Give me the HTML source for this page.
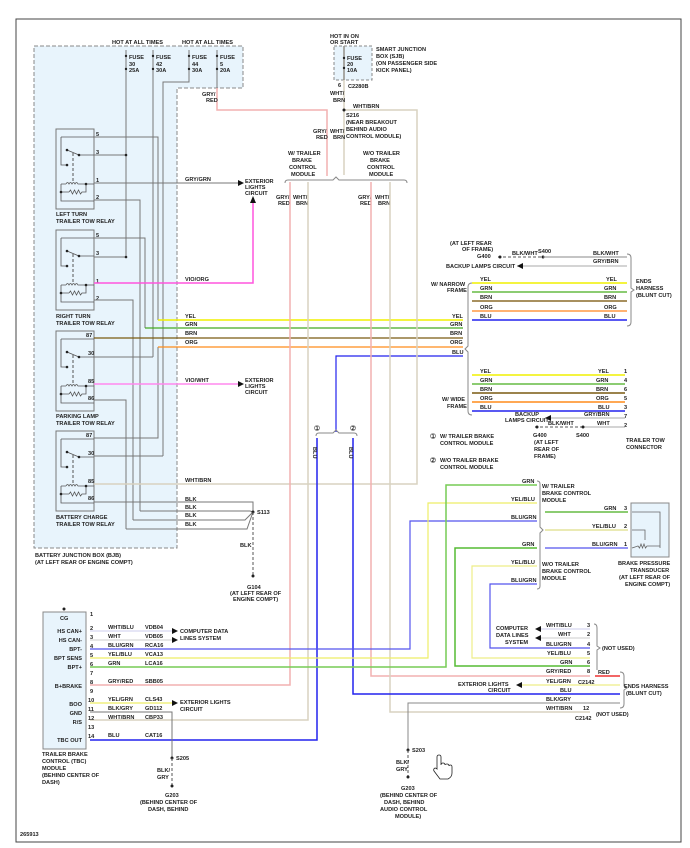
<!DOCTYPE html>
<html><head><meta charset="utf-8"><style>
html,body{margin:0;padding:0;background:#fff;}
svg{display:block;}
text{font-family:"Liberation Sans",sans-serif;font-size:5.6px;font-weight:bold;fill:#222;}
</style></head><body>
<svg width="690" height="848" viewBox="0 0 690 848" xmlns="http://www.w3.org/2000/svg">
<defs>
<g id="relay">
<rect x="0" y="0" width="38" height="80" fill="#e8f4fc" stroke="#777" stroke-width="1"/>
<path d="M5,8 H38 M5,8 V36 H11 M11,21 L23,26 M23,26 H38 M5,55 V72 H38 M5,55 H10 M5,63 H13" fill="none" stroke="#555" stroke-width="0.8"/>
<path d="M10,55 q1.5,-3 3,0 q1.5,-3 3,0 q1.5,-3 3,0 q1.5,-3 3,0 H38" fill="none" stroke="#555" stroke-width="0.8"/>
<path d="M13,63 l1.5,-2 l2,4 l2,-4 l2,4 l2,-4 l2,4 l1.5,-2 H30 V55" fill="none" stroke="#555" stroke-width="0.8"/>
<path d="M17,24 V53" stroke="#555" stroke-width="1" stroke-dasharray="3,2"/>
<circle cx="11" cy="21" r="1.3" fill="#222"/><circle cx="11" cy="36" r="1.3" fill="#222"/><circle cx="23" cy="26" r="1.3" fill="#222"/><circle cx="5" cy="63" r="1.3" fill="#222"/><circle cx="30" cy="55" r="1.3" fill="#222"/>
</g>
</defs>
<rect x="16" y="19" width="665" height="823" fill="none" stroke="#444" stroke-width="1"/>
<!-- BJB -->
<path d="M34,46 H243 V88 H177 V548 H34 Z" fill="#e8f4fc" stroke="#888" stroke-width="1" stroke-dasharray="4,2"/>
<text x="112" y="44">HOT AT ALL TIMES</text><text x="182" y="44">HOT AT ALL TIMES</text>
<g stroke="#777" stroke-width="1" fill="none">
<path d="M126,50 V257 M153,50 V357 M189,50 V82 H163 V456 M217,50 V88"/>
</g>
<g fill="#222"><circle cx="126" cy="56" r="1.2"/><circle cx="153" cy="56" r="1.2"/><circle cx="189" cy="56" r="1.2"/><circle cx="217" cy="56" r="1.2"/>
<circle cx="126" cy="69" r="1.2"/><circle cx="153" cy="69" r="1.2"/><circle cx="189" cy="69" r="1.2"/><circle cx="217" cy="69" r="1.2"/></g>
<g font-size="5"><text x="129" y="59">FUSE</text><text x="129" y="66">30</text><text x="129" y="72">25A</text>
<text x="156" y="59">FUSE</text><text x="156" y="66">42</text><text x="156" y="72">30A</text>
<text x="192" y="59">FUSE</text><text x="192" y="66">44</text><text x="192" y="72">30A</text>
<text x="220" y="59">FUSE</text><text x="220" y="66">5</text><text x="220" y="72">20A</text></g>
<!-- relays -->
<use href="#relay" x="56" y="129"/><use href="#relay" x="56" y="230"/><use href="#relay" x="56" y="331"/><use href="#relay" x="56" y="431"/>
<g font-size="5"><text x="96" y="136">5</text><text x="96" y="154">3</text><text x="96" y="182">1</text><text x="96" y="199">2</text>
<text x="96" y="237">5</text><text x="96" y="255">3</text><text x="96" y="283">1</text><text x="96" y="300">2</text>
<text x="86" y="337">87</text><text x="88" y="355">30</text><text x="88" y="383">85</text><text x="88" y="400">86</text>
<text x="86" y="437">87</text><text x="88" y="455">30</text><text x="88" y="483">85</text><text x="88" y="500">86</text></g>
<text x="56" y="216">LEFT TURN</text><text x="56" y="223">TRAILER TOW RELAY</text>
<text x="56" y="318">RIGHT TURN</text><text x="56" y="325">TRAILER TOW RELAY</text>
<text x="56" y="418">PARKING LAMP</text><text x="56" y="425">TRAILER TOW RELAY</text>
<text x="56" y="519">BATTERY CHARGE</text><text x="56" y="526">TRAILER TOW RELAY</text>
<text x="35" y="557">BATTERY JUNCTION BOX (BJB)</text><text x="35" y="564">(AT LEFT REAR OF ENGINE COMPT)</text>
<!-- relay wires -->
<g stroke="#777" stroke-width="1" fill="none">
<path d="M94,137 H158 V320 M94,155 H126 M94,200 H140 V511 M94,238 H145 V328 M94,257 H126 M94,300 H133 V520 M94,357 H153 M94,400 H126 V529 M94,438 H158 V347 M94,456 H163 M94,502 H253 V512"/>
<path d="M140,511 H250 L253,512 M133,520 H245 L253,512 M126,529 H247 L253,512"/>
<path d="M94,183 H238"/>
</g>
<circle cx="126" cy="155" r="1.3" fill="#222"/><circle cx="126" cy="257" r="1.3" fill="#222"/>
<text x="185" y="181">GRY/GRN</text>
<path d="M238,180 L244,183 L238,186Z" fill="#111"/>
<text x="245" y="183">EXTERIOR</text><text x="245" y="189">LIGHTS</text><text x="245" y="195">CIRCUIT</text>
<path d="M94,283 H253 V200" stroke="#ff55dd" stroke-width="1.5" fill="none"/>
<path d="M250,203 L253,196 L256,203Z" fill="#111"/>
<text x="185" y="281">VIO/ORG</text>
<path d="M94,384 H238" stroke="#ff88ee" stroke-width="1.5"/>
<text x="185" y="382">VIO/WHT</text>
<path d="M238,381 L244,384 L238,387Z" fill="#111"/>
<text x="245" y="382">EXTERIOR</text><text x="245" y="388">LIGHTS</text><text x="245" y="394">CIRCUIT</text>
<!-- main colored lines -->
<path d="M158,320 H463" stroke="#f0f000" stroke-width="1.5"/>
<path d="M145,328 H463" stroke="#44aa22" stroke-width="1.2"/>
<path d="M94,338 H463" stroke="#7a5a10" stroke-width="1.2"/>
<path d="M158,347 H463" stroke="#ff8c1a" stroke-width="1.2"/>
<path d="M463,356 H336 V432" stroke="#2222ee" stroke-width="1.2" fill="none"/>
<text x="185" y="318">YEL</text><text x="185" y="326">GRN</text><text x="185" y="335">BRN</text><text x="185" y="344">ORG</text>
<text x="452" y="318">YEL</text><text x="450" y="326">GRN</text><text x="450" y="335">BRN</text><text x="450" y="344">ORG</text><text x="452" y="354">BLU</text>
<!-- WHT/BRN from relay4 -->
<path d="M94,484 H417 V110 H344" stroke="#d8d2c0" stroke-width="1.5" fill="none"/>
<text x="185" y="482">WHT/BRN</text>
<text x="185" y="501">BLK</text><text x="185" y="509">BLK</text><text x="185" y="517">BLK</text><text x="185" y="526">BLK</text>
<circle cx="253" cy="512" r="1.5" fill="#222"/><text x="257" y="514">S113</text>
<path d="M253,512 V575" stroke="#555" stroke-dasharray="3,2"/><text x="240" y="547">BLK</text>
<circle cx="253" cy="576" r="1.5" fill="#222"/>
<text x="247" y="589">G104</text><text x="230" y="595">(AT LEFT REAR OF</text><text x="233" y="601">ENGINE COMPT)</text>
<!-- GRY/RED from fuse5 -->
<path d="M217,88 V110 H327 V176" stroke="#f2b0b0" stroke-width="1.5" fill="none"/>
<text x="202" y="96">GRY/</text><text x="206" y="102">RED</text>
<!-- SJB -->
<rect x="334" y="46" width="38" height="34" fill="#e8f4fc" stroke="#888" stroke-dasharray="3,2"/>
<text x="330" y="38">HOT IN ON</text><text x="330" y="44">OR START</text>
<path d="M344,46 V175" stroke="#d8d2c0" stroke-width="1.5"/>
<path d="M344,46 V80" stroke="#555" stroke-width="0.8"/>
<circle cx="344" cy="58" r="1.2" fill="#222"/><circle cx="344" cy="68" r="1.2" fill="#222"/>
<g font-size="5"><text x="347" y="60">FUSE</text><text x="347" y="66">20</text><text x="347" y="72">10A</text></g>
<text x="376" y="51">SMART JUNCTION</text><text x="376" y="58">BOX (SJB)</text><text x="376" y="65">(ON PASSENGER SIDE</text><text x="376" y="72">KICK PANEL)</text>
<text x="338" y="87">6</text><text x="348" y="88">C2280B</text>
<text x="330" y="95">WHT/</text><text x="333" y="102">BRN</text>
<circle cx="344" cy="110" r="1.5" fill="#222"/>
<text x="353" y="108">WHT/BRN</text>
<text x="346" y="117">S216</text><text x="346" y="124">(NEAR BREAKOUT</text><text x="346" y="131">BEHIND AUDIO</text><text x="346" y="138">CONTROL MODULE)</text>
<text x="313" y="133">GRY/</text><text x="316" y="139">RED</text><text x="330" y="133">WHT/</text><text x="333" y="139">BRN</text>
<text x="288" y="155">W/ TRAILER</text><text x="292" y="162">BRAKE</text><text x="289" y="169">CONTROL</text><text x="291" y="176">MODULE</text>
<text x="363" y="155">W/O TRAILER</text><text x="370" y="162">BRAKE</text><text x="367" y="169">CONTROL</text><text x="369" y="176">MODULE</text>
<path d="M285,183 Q285,180 288,180 H333 L336,177 L339,180 H404 Q407,180 407,183" stroke="#888" fill="none"/>
<text x="276" y="199">GRY/</text><text x="278" y="205">RED</text><text x="293" y="199">WHT/</text><text x="296" y="205">BRN</text>
<text x="358" y="199">GRY/</text><text x="360" y="205">RED</text><text x="375" y="199">WHT/</text><text x="378" y="205">BRN</text>
<!-- verticals -->
<path d="M290,182 V685 H90" stroke="#f2b0b0" stroke-width="1.5" fill="none"/>
<path d="M308,182 V720 H90" stroke="#d8d2c0" stroke-width="1.5" fill="none"/>
<path d="M371,182 V676 H590" stroke="#f2b0b0" stroke-width="1.5" fill="none"/>
<path d="M390,182 V712 H590" stroke="#d8d2c0" stroke-width="1.5" fill="none"/>
<!-- brace 1/2 -->
<path d="M316,436 Q316,433 319,433 H333 L336,430 L339,433 H354 Q357,433 357,436" stroke="#888" fill="none"/>
<circle cx="317" cy="428" r="2.5" fill="#fff" stroke="#555" stroke-width="0.6"/><text x="315.5" y="430" font-size="4">1</text>
<circle cx="353" cy="428" r="2.5" fill="#fff" stroke="#555" stroke-width="0.6"/><text x="351.5" y="430" font-size="4">2</text>
<path d="M317,438 V740 H90" stroke="#2222ee" stroke-width="1.5" fill="none"/>
<path d="M353,438 V694 H620" stroke="#2222ee" stroke-width="1.5" fill="none"/>
<text x="310" y="450" font-size="4" transform="rotate(90 313 450)">BLU</text>
<text x="346" y="450" font-size="4" transform="rotate(90 349 450)">BLU</text>
<!-- right top -->
<text x="450" y="245">(AT LEFT REAR</text><text x="462" y="251">OF FRAME)</text>
<text x="477" y="258">G400</text>
<path d="M498,257 H543" stroke="#555" stroke-dasharray="3,2"/><circle cx="500" cy="257" r="1.5" fill="#222"/>
<circle cx="543" cy="257" r="1.5" fill="#222"/><text x="512" y="255">BLK/WHT</text><text x="538" y="253">S400</text>
<path d="M543,257 H627" stroke="#888"/><text x="593" y="255">BLK/WHT</text>
<path d="M517,266 H627" stroke="#aaa"/><path d="M523,263 L517,266 L523,269Z" fill="#111"/>
<text x="446" y="268">BACKUP LAMPS CIRCUIT</text><text x="593" y="263">GRY/BRN</text>
<path d="M627,254 Q631,254 631,258 V288 L634,290 L631,292 V322 Q631,326 627,326" stroke="#888" fill="none"/>
<text x="636" y="283">ENDS</text><text x="636" y="290">HARNESS</text><text x="636" y="297">(BLUNT CUT)</text>
<text x="431" y="286">W/ NARROW</text><text x="447" y="292">FRAME</text>
<path d="M472,283 Q468,283 468,287 V346 L465,349 L468,352 V411 Q468,415 472,415" stroke="#888" fill="none"/>
<path d="M472,283 H627" stroke="#f0f000" stroke-width="1.5"/>
<path d="M472,292 H627" stroke="#66bb44" stroke-width="1.5"/>
<path d="M472,301 H627" stroke="#8b6b2a" stroke-width="1.5"/>
<path d="M472,311 H627" stroke="#ff9944" stroke-width="1.5"/>
<path d="M472,320 H627" stroke="#2222ee" stroke-width="1.5"/>
<g><text x="480" y="281">YEL</text><text x="480" y="290">GRN</text><text x="480" y="299">BRN</text><text x="480" y="309">ORG</text><text x="480" y="318">BLU</text>
<text x="606" y="281">YEL</text><text x="604" y="290">GRN</text><text x="604" y="299">BRN</text><text x="604" y="309">ORG</text><text x="604" y="318">BLU</text></g>
<text x="442" y="401">W/ WIDE</text><text x="447" y="408">FRAME</text>
<path d="M472,375 H625" stroke="#f0f000" stroke-width="1.5"/>
<path d="M472,384 H625" stroke="#66bb44" stroke-width="1.5"/>
<path d="M472,393 H625" stroke="#7a5a10" stroke-width="1.5"/>
<path d="M472,402 H625" stroke="#ff8c1a" stroke-width="1.5"/>
<path d="M472,411 H625" stroke="#2222ee" stroke-width="1.5"/>
<g><text x="480" y="373">YEL</text><text x="480" y="382">GRN</text><text x="480" y="391">BRN</text><text x="480" y="400">ORG</text><text x="480" y="409">BLU</text>
<text x="598" y="373">YEL</text><text x="596" y="382">GRN</text><text x="596" y="391">BRN</text><text x="596" y="400">ORG</text><text x="598" y="409">BLU</text>
<text x="624" y="373">1</text><text x="624" y="382">4</text><text x="624" y="391">6</text><text x="624" y="400">5</text><text x="624" y="409">3</text><text x="624" y="418">7</text><text x="624" y="427">2</text></g>
<path d="M545,418 H625" stroke="#aaa"/><path d="M551,415 L545,418 L551,421Z" fill="#111"/>
<text x="515" y="416">BACKUP</text><text x="505" y="422">LAMPS CIRCUIT</text><text x="584" y="416">GRY/BRN</text>
<path d="M583,427 H625" stroke="#aaa"/><text x="597" y="425">WHT</text>
<path d="M535,427 H583" stroke="#555" stroke-dasharray="3,2"/><circle cx="537" cy="427" r="1.5" fill="#222"/><circle cx="583" cy="427" r="1.5" fill="#222"/>
<text x="548" y="425">BLK/WHT</text><text x="533" y="437">G400</text><text x="576" y="437">S400</text>
<text x="534" y="444">(AT LEFT</text><text x="534" y="451">REAR OF</text><text x="534" y="458">FRAME)</text>
<text x="626" y="442">TRAILER TOW</text><text x="626" y="449">CONNECTOR</text>
<circle cx="433" cy="436" r="2.5" fill="#fff" stroke="#555" stroke-width="0.6"/><text x="431.5" y="438" font-size="4">1</text>
<text x="440" y="438">W/ TRAILER BRAKE</text><text x="440" y="445">CONTROL MODULE</text>
<circle cx="433" cy="460" r="2.5" fill="#fff" stroke="#555" stroke-width="0.6"/><text x="431.5" y="462" font-size="4">2</text>
<text x="440" y="462">W/O TRAILER BRAKE</text><text x="440" y="469">CONTROL MODULE</text>
<!-- module lines -->
<path d="M90,649 H410 V521 H537" stroke="#5555ee" stroke-width="1.2" fill="none"/>
<path d="M90,658 H428 V503 H537" stroke="#eeee66" stroke-width="1.2" fill="none"/>
<path d="M90,667 H446 V485 H537" stroke="#77cc55" stroke-width="1.5" fill="none"/>
<path d="M537,548 H455 V666 H590" stroke="#55bb33" stroke-width="1.5" fill="none"/>
<path d="M537,566 H472 V658 H590" stroke="#eeee88" stroke-width="1.2" fill="none"/>
<path d="M537,584 H490 V648 H590" stroke="#5555ee" stroke-width="1.2" fill="none"/>
<text x="522" y="483">GRN</text><text x="511" y="501">YEL/BLU</text><text x="511" y="519">BLU/GRN</text>
<text x="522" y="546">GRN</text><text x="511" y="564">YEL/BLU</text><text x="511" y="582">BLU/GRN</text>
<path d="M537,481 Q540,481 540,484 V527 L543,530 L540,533 V586 Q540,589 537,589" stroke="#888" fill="none"/>
<text x="542" y="488">W/ TRAILER</text><text x="542" y="495">BRAKE CONTROL</text><text x="542" y="502">MODULE</text>
<text x="542" y="566">W/O TRAILER</text><text x="542" y="573">BRAKE CONTROL</text><text x="542" y="580">MODULE</text>
<path d="M545,512 H628" stroke="#66bb44" stroke-width="1.5"/>
<path d="M545,530 H628" stroke="#dddd88" stroke-width="1.2"/>
<path d="M545,548 H628" stroke="#5555ee" stroke-width="1.2"/>
<text x="604" y="510">GRN</text><text x="592" y="528">YEL/BLU</text><text x="592" y="546">BLU/GRN</text>
<text x="624" y="510">3</text><text x="624" y="528">2</text><text x="624" y="546">1</text>
<rect x="631" y="503" width="38" height="54" fill="#e8f4fc" stroke="#888"/>
<path d="M632,512 H660 V548 M632,530 H645 V540 M632,548 L638,546 l1.5,2 l1.5,-4 l1.5,4 l1.5,-4 l1.5,4 l1.5,-2 H660" stroke="#666" fill="none" stroke-width="0.8"/>
<text x="618" y="565">BRAKE PRESSURE</text><text x="630" y="572">TRANSDUCER</text><text x="619" y="579">(AT LEFT REAR OF</text><text x="625" y="586">ENGINE COMPT)</text>
<!-- C2142 -->
<path d="M540,629 H590" stroke="#ccccee"/><path d="M540,638 H590" stroke="#ccc"/>
<path d="M541,626 L535,629 L541,632Z" fill="#111"/><path d="M541,635 L535,638 L541,641Z" fill="#111"/>
<text x="496" y="630">COMPUTER</text><text x="496" y="637">DATA LINES</text><text x="505" y="644">SYSTEM</text>
<text x="546" y="627">WHT/BLU</text><text x="558" y="636">WHT</text><text x="546" y="646">BLU/GRN</text><text x="547" y="655">YEL/BLU</text><text x="560" y="664">GRN</text><text x="546" y="673">GRY/RED</text>
<g font-size="5"><text x="587" y="627">3</text><text x="587" y="636">2</text><text x="587" y="646">4</text><text x="587" y="655">5</text><text x="587" y="664">6</text><text x="587" y="673">8</text></g>
<path d="M594,624 Q597,624 597,628 V646 L600,648 L597,650 V670" stroke="#888" fill="none"/>
<text x="602" y="650">(NOT USED)</text>
<path d="M595,676 H620" stroke="#ee3333" stroke-width="1.5"/><text x="598" y="674">RED</text>
<text x="578" y="684">C2142</text>
<path d="M520,685 H620" stroke="#eeee88" stroke-width="1.2"/><path d="M522,682 L516,685 L522,688Z" fill="#111"/>
<text x="546" y="683">YEL/GRN</text><text x="458" y="686">EXTERIOR LIGHTS</text><text x="488" y="692">CIRCUIT</text>
<text x="560" y="692">BLU</text>
<path d="M408,750 V703 H620" stroke="#888" fill="none"/><text x="546" y="701">BLK/GRY</text>
<text x="546" y="710">WHT/BRN</text><text x="583" y="710">12</text><text x="575" y="720">C2142</text>
<text x="596" y="716">(NOT USED)</text>
<path d="M620,672 Q624,672 624,676 V686 L627,688 L624,690 V704 Q624,708 620,708" stroke="#888" fill="none"/>
<text x="624" y="688">ENDS HARNESS</text><text x="626" y="695">(BLUNT CUT)</text>
<circle cx="408" cy="750" r="1.5" fill="#222"/><text x="412" y="752">S203</text>
<path d="M408,750 V776" stroke="#555" stroke-dasharray="3,2"/><circle cx="408" cy="777" r="1.5" fill="#222"/>
<text x="396" y="764">BLK/</text><text x="396" y="771">GRY</text>
<text x="401" y="790">G203</text><text x="380" y="797">(BEHIND CENTER OF</text><text x="384" y="804">DASH, BEHIND</text><text x="380" y="811">AUDIO CONTROL</text><text x="395" y="818">MODULE)</text>
<!-- hand cursor -->
<path d="M437,757 Q437,755 439,755 Q441,755 441,757 V765 Q441,763 443,763 Q445,763 445,765 Q445,764 447,764 Q449,764 449,766 Q449,765 450.5,765 Q452,765 452,767 V773 Q452,777 448,779 H440 L434,771 Q433,769 435,768 Q436,768 437,769 Z" fill="#fff" stroke="#222" stroke-width="0.8"/>
<!-- TBC module -->
<rect x="43" y="612" width="43" height="137" fill="#e8f4fc" stroke="#888"/>
<circle cx="64" cy="609" r="1.5" fill="#222"/><text x="60" y="620">CG</text>
<g text-anchor="end"><text x="82" y="633">HS CAN+</text><text x="82" y="642">HS CAN-</text><text x="82" y="651">BPT-</text><text x="82" y="660">BPT SENS</text><text x="82" y="669">BPT+</text><text x="82" y="688">B+BRAKE</text><text x="82" y="706">BOO</text><text x="82" y="715">GND</text><text x="82" y="724">R/S</text><text x="82" y="742">TBC OUT</text></g>
<g font-size="4.5"><text x="90" y="616">1</text><text x="90" y="630">2</text><text x="90" y="639">3</text><text x="90" y="648">4</text><text x="90" y="657">5</text><text x="90" y="666">6</text><text x="90" y="675">7</text><text x="90" y="684">8</text><text x="90" y="693">9</text><text x="88" y="702">10</text><text x="88" y="711">11</text><text x="88" y="720">12</text><text x="88" y="729">13</text><text x="88" y="738">14</text></g>
<path d="M90,631 H172" stroke="#ccccee"/><path d="M90,640 H172" stroke="#ccc"/>
<path d="M172,628 L178,631 L172,634Z" fill="#111"/><path d="M172,637 L178,640 L172,643Z" fill="#111"/>
<text x="180" y="633">COMPUTER DATA</text><text x="180" y="640">LINES SYSTEM</text>
<text x="108" y="629">WHT/BLU</text><text x="145" y="629">VDB04</text><text x="108" y="638">WHT</text><text x="145" y="638">VDB05</text>
<text x="108" y="647">BLU/GRN</text><text x="145" y="647">RCA16</text><text x="108" y="656">YEL/BLU</text><text x="145" y="656">VCA13</text>
<text x="108" y="665">GRN</text><text x="145" y="665">LCA16</text><text x="108" y="683">GRY/RED</text><text x="145" y="683">SBB05</text>
<path d="M90,703 H172" stroke="#eeee66" stroke-width="1.2"/><path d="M172,700 L178,703 L172,706Z" fill="#111"/>
<text x="180" y="704">EXTERIOR LIGHTS</text><text x="180" y="711">CIRCUIT</text>
<text x="108" y="701">YEL/GRN</text><text x="145" y="701">CLS43</text><text x="108" y="710">BLK/GRY</text><text x="145" y="710">GD112</text>
<text x="108" y="719">WHT/BRN</text><text x="145" y="719">CBP33</text><text x="108" y="737">BLU</text><text x="145" y="737">CAT16</text>
<path d="M90,712 H172 V758" stroke="#777" fill="none"/>
<circle cx="172" cy="758" r="1.5" fill="#222"/><text x="176" y="760">S205</text>
<path d="M172,758 V785" stroke="#555" stroke-dasharray="3,2"/><circle cx="172" cy="786" r="1.5" fill="#222"/>
<text x="157" y="772">BLK/</text><text x="157" y="779">GRY</text>
<text x="165" y="797">G203</text><text x="140" y="804">(BEHIND CENTER OF</text><text x="148" y="811">DASH, BEHIND</text>
<text x="42" y="756">TRAILER BRAKE</text><text x="42" y="763">CONTROL (TBC)</text><text x="42" y="770">MODULE</text><text x="42" y="777">(BEHIND CENTER OF</text><text x="42" y="784">DASH)</text>
<text x="20" y="836" font-size="5">265913</text>
</svg>
</body></html>
